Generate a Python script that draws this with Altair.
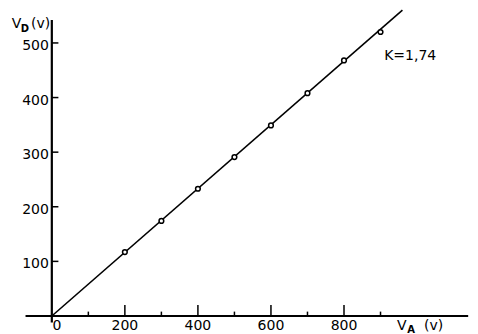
import altair as alt
import pandas as pd

# Data
va = [200, 300, 400, 500, 600, 700, 800, 900]
vd = [117, 174, 233, 291, 349, 408, 468, 520]
line_x = [0, 960]
line_y = [0, 560]

x_major = [200, 400, 600, 800]
x_minor = [100, 300, 500, 700, 900]
y_ticks = [100, 200, 300, 400, 500]
x_labels = ["200", "400", "600", "800"]
y_labels = ["100", "200", "300", "400", "500"]

FONT = "DejaVu Sans"
xs = alt.Scale(domain=[-120, 1145], nice=False, zero=False)
ys = alt.Scale(domain=[-33, 564], nice=False, zero=False)

def X(f="x"):
    return alt.X(f"{f}:Q", scale=xs, axis=None)

def Y(f="y"):
    return alt.Y(f"{f}:Q", scale=ys, axis=None)

# axes lines
axes_df = pd.DataFrame({
    "x": [-72, 0], "x2": [1140, 0],
    "y": [0, -12], "y2": [0, 542],
})
axes = alt.Chart(axes_df).mark_rule(color="black", strokeWidth=2.2).encode(
    x=X(), x2="x2:Q", y=Y(), y2="y2:Q")

# ticks
tick_rows = []
for v in x_major:
    tick_rows.append({"x": v, "x2": v, "y": 0, "y2": 20})
for v in x_minor:
    tick_rows.append({"x": v, "x2": v, "y": 0, "y2": 8})
for v in y_ticks:
    tick_rows.append({"x": 0, "x2": 18, "y": v, "y2": v})
ticks = alt.Chart(pd.DataFrame(tick_rows)).mark_rule(color="black", strokeWidth=1.5).encode(
    x=X(), x2="x2:Q", y=Y(), y2="y2:Q")

# fitted line
line = alt.Chart(pd.DataFrame({"x": line_x, "y": line_y})).mark_line(
    color="black", strokeWidth=1.6).encode(x=X(), y=Y())

# measured points
pts = alt.Chart(pd.DataFrame({"x": va, "y": vd})).mark_point(
    shape="circle", size=22, filled=True, fill="white", stroke="black",
    strokeWidth=1.5, opacity=1).encode(x=X(), y=Y())

# tick labels
xl = alt.Chart(pd.DataFrame({"x": x_major, "y": [-5] * 4, "t": x_labels})).mark_text(
    font=FONT, fontSize=14, align="center", baseline="top", color="black").encode(
    x=X(), y=Y(), text="t:N")
zero = alt.Chart(pd.DataFrame({"x": [14], "y": [-5], "t": ["0"]})).mark_text(
    font=FONT, fontSize=14, align="center", baseline="top", color="black").encode(
    x=X(), y=Y(), text="t:N")
yl = alt.Chart(pd.DataFrame({"x": [-8] * 5, "y": y_ticks, "t": y_labels})).mark_text(
    font=FONT, fontSize=14, align="right", baseline="middle", dy=3, color="black").encode(
    x=X(), y=Y(), text="t:N")

# axis titles and annotation
txt_df = pd.DataFrame({
    "x": [945, 1019, -110, -57, 910],
    "y": [-26, -26, 527, 527, 468],
    "t": ["V", "(v)", "V", "(v)", "K=1,74"],
})
titles = alt.Chart(txt_df).mark_text(
    font=FONT, fontSize=14, align="left", baseline="alphabetic", color="black").encode(
    x=X(), y=Y(), text="t:N")
sub_df = pd.DataFrame({"x": [973, -85], "y": [-31, 520], "t": ["A", "D"]})
subs = alt.Chart(sub_df).mark_text(
    font=FONT, fontSize=10, fontWeight="bold", align="left", baseline="alphabetic",
    color="black").encode(x=X(), y=Y(), text="t:N")

chart = alt.layer(axes, ticks, line, pts, xl, zero, yl, titles, subs).properties(
    width=462, height=326, padding=0, autosize=alt.AutoSizeParams(type="none"),
    background="white",
).configure_view(stroke=None)

chart.save("out.html", embed_options={"renderer": "svg", "actions": False})
